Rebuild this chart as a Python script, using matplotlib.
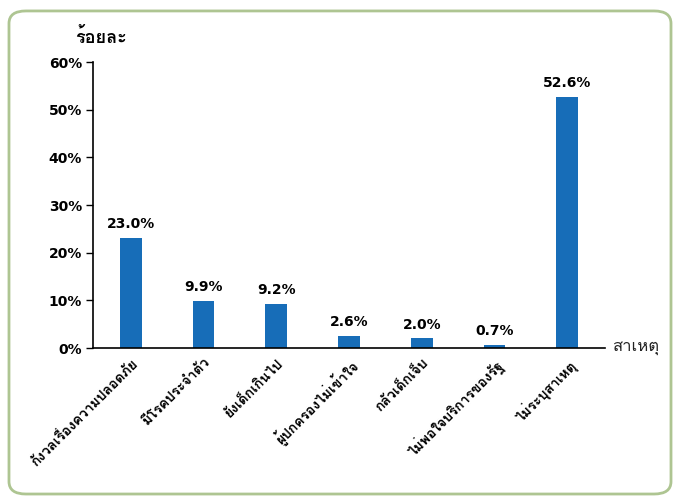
import matplotlib
matplotlib.use("Agg")
import matplotlib.pyplot as plt
from matplotlib.patches import FancyBboxPatch

thai = ['Loma', 'DejaVu Sans']

causes = ["กังวลเรื่องความปลอดภัย", "มีโรคประจำตัว", "ยังเด็กเกินไป",
          "ผู้ปกครองไม่เข้าใจ", "กลัวเด็กเจ็บ", "ไม่พอใจบริการของรัฐ",
          "ไม่ระบุสาเหตุ"]
percent = [23.0, 9.9, 9.2, 2.6, 2.0, 0.7, 52.6]
yticks = [0, 10, 20, 30, 40, 50, 60]

fig = plt.figure(figsize=(6.76, 4.98), dpi=100)

# rounded green frame around the whole chart
frame = FancyBboxPatch((0.0133, 0.008), 0.9793, 0.970,
                       boxstyle="round,pad=0,rounding_size=0.025",
                       transform=fig.transFigure, facecolor="none",
                       edgecolor="#aec592", linewidth=2.0, zorder=5)
fig.patches.append(frame)

ax = fig.add_axes([0.1376, 0.3012, 0.7574, 0.5743])
ax.patch.set_alpha(0)

x = range(len(causes))
bars = ax.bar(x, percent, width=0.3, color="#176db8")
ax.bar_label(bars, labels=["%.1f%%" % v for v in percent], padding=5,
             fontsize=10, fontweight="bold")

ax.set_xlim(-0.52, 6.52)
ax.set_ylim(0, 60)
ax.set_yticks(yticks)
ax.set_yticklabels(["%d%%" % t for t in yticks], fontsize=10, fontweight="bold")
ax.tick_params(axis="y", length=5, width=1, pad=3)

ax.set_xticks(list(x))
ax.set_xticklabels(causes, rotation=45, ha="right", rotation_mode="anchor",
                   family=thai, fontsize=10, fontweight="bold")
ax.tick_params(axis="x", length=0, pad=6)

for s in ["top", "right"]:
    ax.spines[s].set_visible(False)
ax.spines["left"].set_linewidth(1.2)
ax.spines["bottom"].set_linewidth(1.2)

fig.text(0.111, 0.914, "ร้อยละ", family=thai, fontsize=13, fontweight="bold")
fig.text(0.906, 0.296, "สาเหตุ", family=thai, fontsize=12, color="#222222")

fig.savefig("out.png", dpi=100)
